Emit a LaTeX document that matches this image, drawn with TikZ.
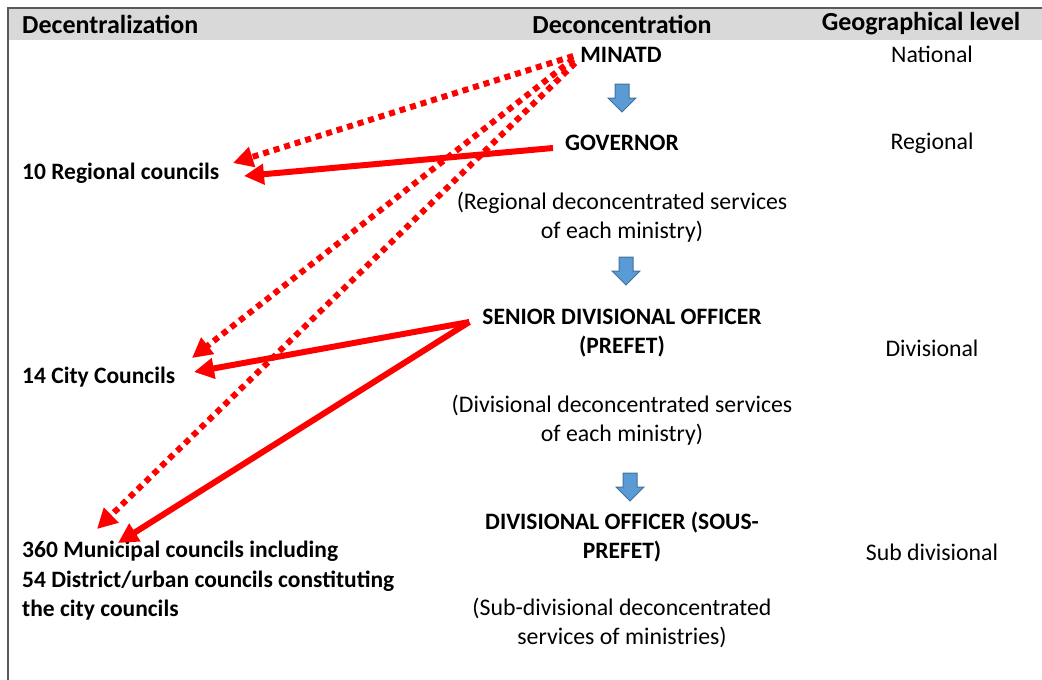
\documentclass[tikz,border=0pt]{standalone}
\usepackage{fontspec}
\setmainfont{Carlito}
\usetikzlibrary{arrows.meta}
\definecolor{hdrgray}{HTML}{D9D9D9}
\definecolor{framegray}{HTML}{595959}
\definecolor{arrowblue}{HTML}{5B9BD5}
\definecolor{arrowedge}{HTML}{41719C}

\begin{document}
\begin{tikzpicture}[x=1pt,y=-1pt,
    hd/.style={font=\fontsize{23.5}{29.5}\selectfont\bfseries},
    colhd/.style={font=\fontsize{26}{30}\selectfont\bfseries},
    solidarr/.style={red,line width=6pt,-{Triangle[length=20pt,width=20pt]}},
    dotarr/.style={solidarr,dash pattern=on 6pt off 5pt},
    blockarr/.style={draw=arrowedge,fill=arrowblue,line width=1pt,line join=miter}]
    \tikzstyle{every node}=[font=\fontsize{23.8}{29.5}\selectfont,inner sep=2pt]
    \useasboundingbox (0,0) rectangle (1042,680);
    % frame and header band
    \fill[hdrgray] (9,9) rectangle (1042,40);
    \draw[framegray,line width=1.5pt] (8,680) -- (8,8) -- (1042,8);
    \node[colhd,anchor=west] (Decen) at (20,24) {Decentralization};
    \node[colhd] (Decon) at (622,24) {Deconcentration};
    \node[colhd] (Geo) at (921,24) {Geographical level};
    % deconcentration column
    \node[hd] (MINATD) at (621,55) {MINATD};
    \coordinate (Down-1) at (622,98);
    \node[hd] (GOV) at (622,143) {GOVERNOR};
    \node[align=center] (Svc-1) at (622,217) {(Regional deconcentrated services\\of each ministry)};
    \coordinate (Down-2) at (626,271);
    \node[hd,align=center] (SDO) at (622,333) {SENIOR DIVISIONAL OFFICER\\(PREFET)};
    \node[align=center] (Svc-2) at (622,420) {(Divisional deconcentrated services\\of each ministry)};
    \coordinate (Down-3) at (630,487);
    \node[hd,align=center] (DO) at (622,537) {DIVISIONAL OFFICER (SOUS-\\PREFET)};
    \node[align=center] (Svc-3) at (622,623) {(Sub-divisional deconcentrated\\services of ministries)};
    \foreach \d in {Down-1,Down-2,Down-3}
      \draw[blockarr] (\d) ++(-7,-14) -- ++(14,0) -- ++(0,14) -- ++(7,0)
        -- ++(-14,14) -- ++(-14,-14) -- ++(7,0) -- cycle;
    % geographical levels
    \node (Lvl-1) at (932,54) {National};
    \node (Lvl-2) at (932,143) {Regional};
    \node (Lvl-3) at (932,348) {Divisional};
    \node (Lvl-4) at (932,552) {Sub divisional};
    % decentralization column
    \node[hd,anchor=west] (RC) at (20,173) {10 Regional councils};
    \node[hd,anchor=west] (CC) at (20,377) {14 City Councils};
    \node[hd,anchor=west,align=left] (MC) at (20,581) {360 Municipal councils including\\54 District/urban councils constituting\\the city councils};
    % arrow tips
    \coordinate (Tip-RC1) at (233,163);
    \coordinate (Tip-RC2) at (244,176);
    \coordinate (Tip-CC1) at (192,358);
    \coordinate (Tip-CC2) at (194,372);
    \coordinate (Tip-MC1) at (97,529);
    \coordinate (Tip-MC2) at (118,543);
    \draw[dotarr] ([xshift=-5pt,yshift=-1pt]MINATD.west) -- (Tip-RC1);
    \draw[dotarr] ([xshift=-5pt,yshift=-4pt]MINATD.west) -- (Tip-CC1);
    \draw[dotarr] ([xshift=-3pt,yshift=-8pt]MINATD.west) -- (Tip-MC1);
    \draw[solidarr] ([xshift=-10pt,yshift=-5pt]GOV.west) -- (Tip-RC2);
    \draw[solidarr] ([xshift=-11pt,yshift=11pt]SDO.west) -- (Tip-CC2);
    \draw[solidarr] ([xshift=-11pt,yshift=11pt]SDO.west) -- (Tip-MC2);
\end{tikzpicture}
\end{document}
